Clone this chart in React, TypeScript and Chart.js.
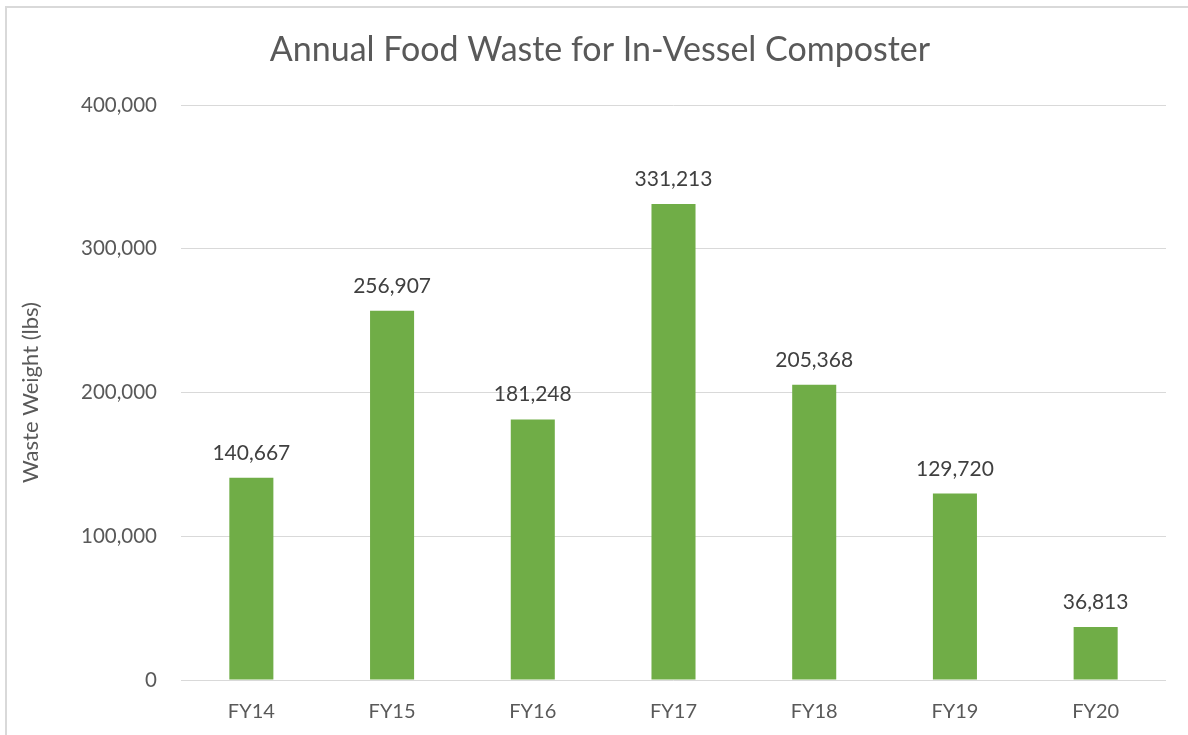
import React, { useEffect, useRef } from "react";
import { Chart, registerables } from "chart.js";

Chart.register(...registerables);

const categories: string[] = ["FY14", "FY15", "FY16", "FY17", "FY18", "FY19", "FY20"];
const wasteValues: number[] = [140667, 256907, 181248, 331213, 205368, 129720, 36813];
const yTicks: number[] = [0, 100000, 200000, 300000, 400000];
const chartTitle = "Annual Food Waste for In-Vessel Composter";

const FONT = "Lato, 'Open Sans', sans-serif";

const frameAndLabels = {
  id: "frameAndLabels",
  beforeDraw(chart: any) {
    const ctx = chart.ctx;
    ctx.save();
    ctx.fillStyle = "#ffffff";
    ctx.fillRect(0, 0, chart.width, chart.height);
    ctx.strokeStyle = "#d9d9d9";
    ctx.lineWidth = 2;
    ctx.beginPath();
    ctx.moveTo(6, chart.height + 2);
    ctx.lineTo(6, 7);
    ctx.lineTo(chart.width + 2, 7);
    ctx.stroke();
    ctx.fillStyle = "#595959";
    ctx.font = `34px ${FONT}`;
    ctx.textAlign = "center";
    ctx.textBaseline = "middle";
    ctx.fillText(chartTitle, 600, 50.5);
    ctx.restore();
  },
  afterDatasetsDraw(chart: any) {
    const ctx = chart.ctx;
    const meta = chart.getDatasetMeta(0);
    const data = chart.data.datasets[0].data as number[];
    ctx.save();
    ctx.fillStyle = "#404040";
    ctx.font = `21px ${FONT}`;
    ctx.textAlign = "center";
    ctx.textBaseline = "alphabetic";
    meta.data.forEach((bar: any, i: number) => {
      ctx.fillText(data[i].toLocaleString("en-US"), bar.x, bar.y - 18);
    });
    ctx.restore();
  },
};

export default function App() {
  const canvasRef = useRef<HTMLCanvasElement | null>(null);

  useEffect(() => {
    document.body.style.margin = "0";
    const canvas = canvasRef.current;
    if (!canvas) return;
    const chart = new Chart(canvas, {
      type: "bar",
      data: {
        labels: categories,
        datasets: [
          {
            data: wasteValues,
            backgroundColor: "#70AD47",
            borderWidth: 0,
            barPercentage: 0.313,
            categoryPercentage: 1,
          },
        ],
      },
      options: {
        animation: false,
        responsive: false,
        layout: { padding: { left: 0, right: 22, top: 105, bottom: 0 } },
        plugins: {
          legend: { display: false },
          tooltip: { enabled: false },
          title: { display: false },
        },
        scales: {
          x: {
            grid: { display: false },
            border: { display: false },
            ticks: {
              color: "#595959",
              font: { family: FONT, size: 20 },
              padding: 12,
            },
            afterFit(scale: any) {
              scale.height = 55;
            },
          },
          y: {
            min: 0,
            max: 400000,
            afterBuildTicks(scale: any) {
              scale.ticks = yTicks.map((v) => ({ value: v }));
            },
            grid: { color: "#d9d9d9", lineWidth: 1, drawTicks: false },
            border: { display: false },
            ticks: {
              color: "#595959",
              font: { family: FONT, size: 20.5 },
              padding: 24,
              callback: (v: any) => Number(v).toLocaleString("en-US"),
            },
            title: {
              display: true,
              text: "Waste Weight (lbs)",
              color: "#595959",
              font: { family: FONT, size: 22, weight: "normal" },
              padding: { top: 18, bottom: 0 },
            },
            afterFit(scale: any) {
              scale.width = 181;
            },
          },
        },
      },
      plugins: [frameAndLabels],
    });
    return () => chart.destroy();
  }, []);

  return (
    <div style={{ width: 1188, height: 735, overflow: "hidden", background: "#fff" }}>
      <canvas ref={canvasRef} width={1188} height={735} style={{ display: "block" }} />
    </div>
  );
}
